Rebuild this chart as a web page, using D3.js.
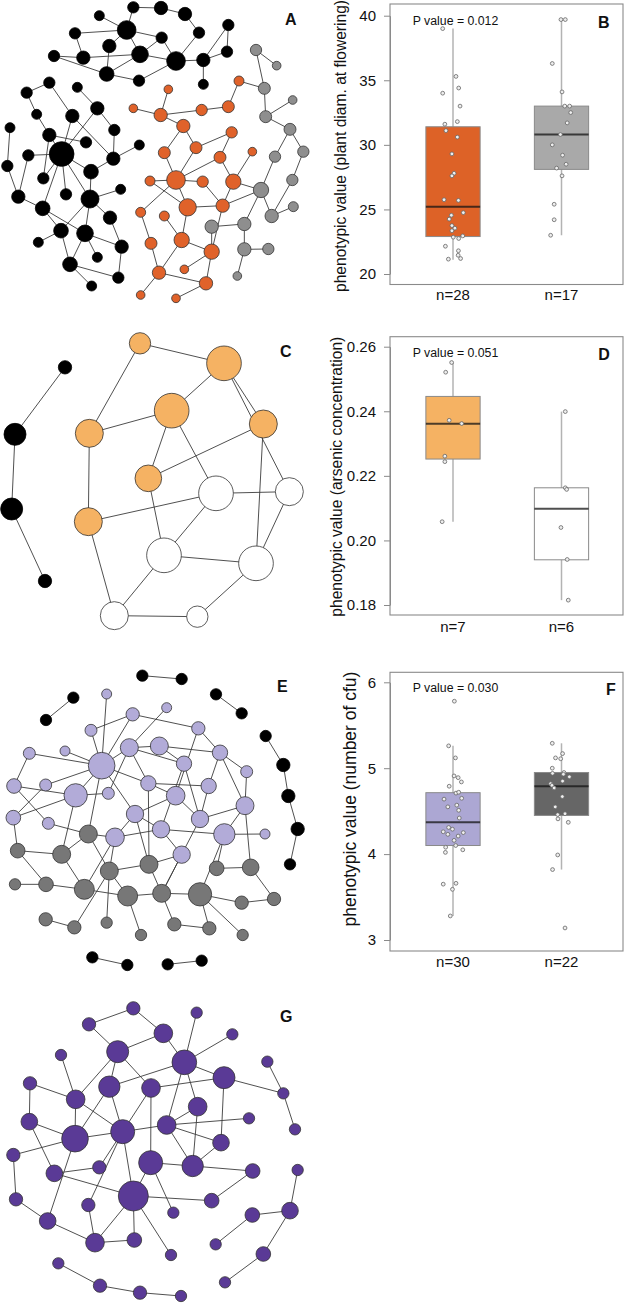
<!DOCTYPE html>
<html><head><meta charset="utf-8">
<script src="https://cdn.jsdelivr.net/npm/d3@7"></script>
<style>body{margin:0;background:#fff}svg{display:block;font-family:"Liberation Sans",Arial,sans-serif}</style>
</head><body>
<script>
// ---------------- Box plot data ----------------
const groupsB = ["n=28", "n=17"];
const statsB = [ // [whiskerLow, q1, median, q3, whiskerHigh]
  [21.1, 22.9, 25.2, 31.4, 39.0],
  [23.0, 28.1, 30.8, 33.0, 39.7]
];
const pointsB1 = [39.0,35.3,34.0,34.4,33.0,31.6,31.8,31.1,30.6,29.3,27.8,27.6,25.75,25.7,24.75,24.55,24.25,23.75,23.55,23.35,22.85,22.75,22.95,22.15,21.8,21.45,21.15,21.2];
const jitterB1 = [-0.38,0.11,-0.38,0.21,0.26,-0.30,0.16,-0.26,0.16,-0.04,0.04,-0.04,-0.33,0.20,0.38,-0.06,-0.14,-0.04,0.07,-0.04,0.01,0.21,0.36,-0.28,0.20,0.19,-0.17,0.28];
const pointsB2 = [39.7,39.7,36.3,34.1,33.0,33.0,32.5,31.7,30.8,30.0,29.2,28.5,28.2,27.6,25.4,24.2,23.0];
const jitterB2 = [-0.02,0.14,-0.34,0.02,0.12,0.30,0.34,0.21,-0.04,-0.34,0.04,0.17,-0.18,0.02,-0.27,-0.27,-0.40];
const ticksB = [20,25,30,35,40];

const groupsD = ["n=7", "n=6"];
const statsD = [
  [0.2058, 0.2252, 0.2361, 0.2446, 0.2551],
  [0.1815, 0.1940, 0.2098, 0.2163, 0.2399]
];
const pointsD1 = [0.2551,0.2521,0.2372,0.2362,0.2261,0.2244,0.2058];
const jitterD1 = [-0.05,-0.27,-0.14,0.32,-0.30,-0.30,-0.40];
const pointsD2 = [0.2399,0.2163,0.2158,0.2040,0.1941,0.1815];
const jitterD2 = [0.14,0.14,0.19,-0.02,0.21,0.25];
const ticksD = [0.18,0.20,0.22,0.24,0.26];

const groupsF = ["n=30", "n=22"];
const statsF = [
  [3.28, 4.10, 4.37, 4.715, 5.26],
  [3.82, 4.45, 4.79, 4.95, 5.29]
];
const pointsF1 = [5.78,5.26,5.12,4.91,4.89,4.84,4.79,4.71,4.72,4.64,4.65,4.55,4.57,4.51,4.42,4.31,4.29,4.26,4.25,4.23,4.21,4.16,4.10,4.08,4.05,4.02,3.65,3.66,3.59,3.28];
const jitterF1 = [0.05,-0.16,0.09,0.04,0.19,0.31,-0.14,0.11,0.21,-0.33,0.32,-0.19,0.14,0.21,0.23,-0.16,-0.02,-0.36,0.38,-0.19,0.19,0.04,0.10,-0.27,0.36,-0.28,-0.36,0.11,-0.02,-0.10];
const pointsF2 = [5.29,5.17,5.12,5.11,5.00,4.95,4.94,4.93,4.90,4.82,4.85,4.80,4.77,4.67,4.55,4.47,4.46,4.41,4.37,3.99,3.82,3.14];
const jitterF2 = [-0.34,0.04,-0.22,-0.03,-0.34,0.09,-0.33,0.07,0.29,-0.40,0.04,-0.35,-0.27,0.03,-0.23,0.13,-0.14,-0.13,0.25,-0.14,-0.33,0.13];
const ticksF = [3,4,5,6];

// ---------------- Network data (layout units) ----------------
// [x, y, size, group]
const nodesA = [
[400,22,17,"k"],[483,24,20,"k"],[555,42,20,"k"],[298,47,15,"k"],[380,90,28,"k"],[225,100,17,"k"],[597,98,17,"k"],[685,75,17,"k"],[485,113,17,"k"],[328,138,20,"k"],
[420,163,25,"k"],[528,183,28,"k"],[681,155,17,"k"],[162,168,17,"k"],[250,173,20,"k"],[610,180,20,"k"],[320,222,22,"k"],[417,242,17,"k"],[610,253,15,"k"],[148,248,17,"k"],
[232,262,15,"k"],[80,278,17,"k"],[292,325,20,"k"],[110,343,15,"k"],[217,348,20,"k"],[30,383,15,"k"],[343,390,17,"k"],[148,405,20,"k"],[258,427,17,"k"],[418,435,15,"k"],
[185,462,37,"k"],[85,466,17,"k"],[340,476,20,"k"],[22,498,17,"k"],[273,515,22,"k"],[130,535,17,"k"],[55,590,20,"k"],[198,583,17,"k"],[270,597,27,"k"],[362,568,15,"k"],
[128,625,22,"k"],[330,653,20,"k"],[183,692,22,"k"],[255,700,25,"k"],[115,727,15,"k"],[365,740,20,"k"],[292,772,15,"k"],[210,793,22,"k"],[355,833,17,"k"],[275,858,15,"k"],
[717,243,15,"o"],[505,268,13,"o"],[400,325,13,"o"],[482,345,20,"o"],[605,330,17,"o"],[685,320,18,"o"],[550,378,20,"o"],[695,397,17,"o"],[588,443,18,"o"],[493,458,18,"o"],
[660,472,18,"o"],[757,455,13,"o"],[528,540,28,"o"],[450,543,15,"o"],[608,545,17,"o"],[700,545,23,"o"],[563,622,26,"o"],[668,617,20,"o"],[422,637,15,"o"],[493,648,15,"o"],
[453,730,18,"o"],[545,720,23,"o"],[635,755,23,"o"],[553,808,13,"o"],[477,818,20,"o"],[618,850,20,"o"],[422,885,13,"o"],[528,895,13,"o"],
[768,150,17,"g"],[830,197,13,"g"],[793,265,18,"g"],[878,300,13,"g"],[797,350,18,"g"],[870,388,18,"g"],[910,455,17,"g"],[825,470,17,"g"],[877,540,17,"g"],[783,570,23,"g"],
[815,648,20,"g"],[880,620,15,"g"],[635,680,20,"g"],[733,672,20,"g"],[733,748,20,"g"],[805,747,17,"g"],[712,828,13,"g"]
];
const edgesA = [
[1,2],[2,3],[1,5],[4,5],[6,5],[5,10],[5,11],[5,9],[3,7],[7,12],[9,11],[9,12],[10,17],[6,15],[14,15],[15,11],[14,17],[17,11],[17,18],[11,12],[12,16],[16,8],[8,13],[13,16],[16,19],[18,12],
[20,22],[22,24],[20,25],[21,23],[24,28],[28,31],[25,31],[23,31],[23,27],[28,29],[26,34],[32,31],[32,37],[34,37],[37,41],[31,41],[31,35],[31,39],[31,38],[27,33],[25,33],[33,30],[39,40],[39,44],
[33,35],[35,39],[42,39],[42,46],[36,28],[31,36],[41,43],[41,44],[43,45],[43,48],[44,48],[44,46],[44,47],[46,49],[48,49],[48,50],[39,43],
[52,54],[53,54],[54,55],[55,56],[56,51],[54,57],[57,60],[57,59],[59,58],[59,63],[60,63],[58,61],[61,66],[62,66],[61,63],[63,64],[63,65],[63,67],[64,67],[65,68],[66,68],[67,68],
[63,69],[69,71],[70,72],[67,72],[72,75],[72,73],[71,75],[75,76],[73,76],[75,77],[76,78],[74,73],[68,73],[66,88],[51,81],
[79,80],[79,81],[81,83],[82,83],[83,84],[84,85],[84,86],[85,87],[86,88],[87,89],[88,89],[89,90],[88,92],[92,93],[93,94],[93,95],[91,92],[68,88],[91,73]
];

const nodesC = [
[195,142,20,"k"],[45,343,33,"k"],[35,567,33,"k"],[135,783,20,"k"],
[420,70,32,"o"],[672,130,52,"o"],[515,272,52,"o"],[268,340,42,"o"],[790,312,42,"o"],[445,475,40,"o"],[265,605,42,"o"],
[648,520,52,"w"],[868,515,42,"w"],[492,706,52,"w"],[768,730,52,"w"],[343,887,42,"w"],[592,890,32,"w"]
];
const edgesC = [
[1,2],[2,3],[3,4],[5,6],[5,8],[6,7],[6,9],[6,13],[8,7],[8,11],[7,10],[7,12],[9,10],[9,15],[10,14],[11,12],[12,13],[12,14],[13,15],[14,15],[11,16],[14,16],[16,17],[15,17]
];

const nodesEblack = [
["K1",427,77,17],["K2",545,87,17],["K3",220,143,17],["K4",138,210,17],["K5",648,133,17],["K6",725,190,17],["K7",797,258,17],["K8",850,345,20],
["K9",865,438,20],["K10",893,537,20],["K11",870,643,17],["K12",277,922,17],["K13",382,945,17],["K14",503,943,17],["K15",605,932,17]
];
const nodesElav = [
["L1",320,132,15],["L2",398,193,20],["L3",500,173,15],["L4",273,241,18],["L5",595,235,20],["L6",88,310,18],["L7",195,303,15],["L8",388,293,27],
["L9",478,288,27],["L10",305,347,40],["L11",660,308,23],["L12",552,341,23],["L13",740,365,18],["L14",42,408,22],["L15",137,405,18],["L16",227,436,35],
["L17",325,430,18],["L18",445,400,23],["L19",527,437,28],["L20",626,408,23],["L21",735,467,27],["L22",40,503,22],["L23",145,520,18],["L24",405,492,26],
["L25",600,507,26],["L26",345,562,28],["L27",483,538,26],["L28",673,553,32],["L29",795,552,15],["L30",545,614,26]
];
const nodesEgrey = [
["G1",265,552,27],["G2",53,602,22],["G3",185,613,27],["G4",447,643,27],["G5",328,663,27],["G6",650,655,22],["G7",752,652,25],["G8",45,703,17],
["G9",138,703,22],["G10",253,718,30],["G11",383,738,30],["G12",485,730,27],["G13",600,733,35],["G14",725,758,20],["G15",822,747,20],["G16",137,808,20],
["G17",223,832,20],["G18",320,818,17],["G19",423,855,17],["G20",523,823,20],["G21",628,835,20],["G22",728,855,17]
];
const edgesE = [
["K1","K2"],["K3","K4"],["K5","K6"],["K7","K8"],["K8","K9"],["K9","K10"],["K10","K11"],["K12","K13"],["K14","K15"],
["L1","L10"],["L2","L4"],["L2","L5"],["L2","L10"],["L3","L8"],["L4","L10"],["L6","L10"],["L7","L10"],["L6","L14"],["L14","L16"],["L14","L23"],
["L15","L10"],["L15","L22"],["L16","L22"],["L22","G2"],["L23","G1"],["L10","L8"],["L8","L9"],["L8","L12"],["L9","L12"],["L9","L11"],["L8","L18"],
["L10","L18"],["L10","L16"],["L17","L8"],["L10","G1"],["L16","G3"],["L10","L24"],["L5","L11"],["L5","L19"],["L11","L13"],["L11","L21"],["L11","L20"],
["L12","L27"],["L12","L25"],["L18","L20"],["L18","L19"],["L19","L25"],["L19","L24"],["L20","L25"],["L21","L25"],["L21","L28"],["L21","G7"],["L13","L21"],
["L28","L29"],["L24","L27"],["L24","L26"],["L26","L27"],["L27","L30"],["L27","L28"],["L26","G1"],["L26","G5"],["L30","G12"],["L28","G13"],["L28","G6"],
["L30","G4"],["L24","G4"],["G1","G3"],["G1","G5"],["G2","G3"],["G2","G9"],["G3","G10"],["G8","G9"],["G9","G10"],["G10","G11"],["G16","G17"],["G17","G5"],
["G5","G4"],["G5","G11"],["G4","G12"],["G11","G12"],["G11","G19"],["G12","G13"],["G12","G20"],["G20","G21"],["G13","G21"],["G13","G22"],["G13","G14"],
["G14","G15"],["G15","G7"],["G6","G7"],["G18","G5"],["G10","L26"],["G12","L25"],["G4","L18"],["L16","L17"]
];

const nodesG = [
["P1",400,115,20],["P2",590,128,17],["P3",267,163,20],["P4",490,190,28],["P5",697,193,17],["P6",353,245,33],["P7",553,277,37],["P8",183,255,17],
["P9",802,275,17],["P10",672,323,33],["P11",90,340,20],["P12",328,350,32],["P13",453,354,28],["P14",850,370,17],["P15",227,388,28],["P16",593,410,28],
["P17",747,445,17],["P18",88,455,25],["P19",500,465,28],["P20",885,478,17],["P21",225,506,40],["P22",368,485,36],["P23",663,518,25],["P24",40,555,20],
["P25",452,578,36],["P26",578,588,32],["P27",298,592,20],["P28",163,610,25],["P29",758,603,22],["P30",893,600,17],["P31",48,688,20],["P32",400,678,45],
["P33",635,692,22],["P34",265,705,20],["P35",520,728,17],["P36",757,735,22],["P37",870,722,25],["P38",143,753,25],["P39",285,818,28],["P40",403,810,22],
["P41",647,823,17],["P42",790,852,22],["P43",513,855,17],["P44",175,880,17],["P45",675,937,17],["P46",300,947,20],["P47",420,968,20],["P48",543,978,17]
];
const edgesG = [
["P1","P3"],["P1","P4"],["P3","P6"],["P4","P6"],["P4","P7"],["P2","P7"],["P5","P7"],["P7","P10"],["P7","P12"],["P7","P19"],["P7","P16"],["P6","P12"],
["P6","P13"],["P6","P15"],["P8","P15"],["P11","P15"],["P11","P18"],["P10","P13"],["P10","P23"],["P10","P14"],["P9","P14"],["P14","P20"],["P12","P21"],
["P12","P22"],["P13","P22"],["P13","P25"],["P15","P21"],["P15","P22"],["P18","P21"],["P18","P28"],["P21","P24"],["P21","P22"],["P21","P38"],["P22","P19"],
["P22","P27"],["P22","P32"],["P22","P34"],["P19","P17"],["P19","P16"],["P16","P26"],["P19","P26"],["P23","P26"],["P25","P26"],["P25","P32"],["P25","P35"],
["P26","P29"],["P28","P27"],["P28","P32"],["P24","P31"],["P31","P38"],["P38","P39"],["P34","P39"],["P32","P39"],["P32","P40"],["P32","P33"],["P32","P43"],
["P33","P29"],["P39","P40"],["P41","P36"],["P36","P37"],["P37","P30"],["P37","P42"],["P42","P45"],["P44","P46"],["P46","P47"],["P47","P48"],["P19","P23"]
];

// ---------------- Drawing ----------------
const W = 625, H = 1304;
const svg = d3.select("body").append("svg").attr("width", W).attr("height", H);
const FONT = "'Liberation Sans', Arial, sans-serif";

function drawNet(nodes, edges, colors, x0, y0, letter, lx, ly) {
  const g = svg.append("g");
  const x = d3.scaleLinear().domain([0, 990]).range([x0, x0 + 330]);
  const y = d3.scaleLinear().domain([0, 960]).range([y0, y0 + 320]);
  const r = d3.scaleLinear().domain([0, 3]).range([0, 1]);
  const byId = new Map(nodes.map(n => [n.id, n]));
  g.selectAll("line").data(edges).join("line")
    .attr("x1", e => x(byId.get(e[0]).x)).attr("y1", e => y(byId.get(e[0]).y))
    .attr("x2", e => x(byId.get(e[1]).x)).attr("y2", e => y(byId.get(e[1]).y))
    .attr("stroke", "#3c3c3c").attr("stroke-width", 0.9);
  g.selectAll("circle").data(nodes).join("circle")
    .attr("cx", n => x(n.x)).attr("cy", n => y(n.y)).attr("r", n => r(n.s))
    .attr("fill", n => colors[n.g])
    .attr("stroke", n => n.g === "k" ? "#000" : "#333").attr("stroke-width", 0.8);
  svg.append("text").attr("x", lx).attr("y", ly).text(letter)
    .attr("font-size", 16).attr("font-weight", "bold").attr("fill", "#111");
}

const toNodes = (arr) => arr.map((d, i) => ({id: i + 1, x: d[0], y: d[1], s: d[2], g: d[3]}));
const toNodesId = (arr, grp) => arr.map(d => ({id: d[0], x: d[1], y: d[2], s: d[3], g: grp}));

drawNet(toNodes(nodesA), edgesA, {k: "#000", o: "#E0622A", g: "#8E8E8E"}, 0, 0, "A", 285, 25);
drawNet(toNodes(nodesC), edgesC, {k: "#000", o: "#F5B263", w: "#fff"}, 0, 320, "C", 280, 356.5);
drawNet([...toNodesId(nodesEblack, "k"), ...toNodesId(nodesElav, "l"), ...toNodesId(nodesEgrey, "g")], edgesE,
  {k: "#000", l: "#B2ABD8", g: "#777777"}, 0, 650, "E", 277, 691.5);
drawNet(toNodesId(nodesG, "p"), edgesG, {p: "#5A3A96"}, 0, 970, "G", 280, 1022);

function drawBox(cfg) {
  const g = svg.append("g");
  const x = d3.scaleLinear().domain([0.5, 2.5]).range([398.75, 615.75]);
  const y = d3.scaleLinear().domain(cfg.domain).range(cfg.range);
  const bw = x(1.25) - x(1);
  // frame
  g.append("rect").attr("x", 390).attr("y", cfg.top).attr("width", 233).attr("height", cfg.bottom - cfg.top)
    .attr("fill", "none").attr("stroke", "#8a8a8a").attr("stroke-width", 1.1);
  // axis
  const ax = g.append("g").attr("transform", "translate(390,0)")
    .call(d3.axisLeft(y).tickValues(cfg.ticks).tickSize(6).tickSizeOuter(0).tickPadding(8).tickFormat(cfg.fmt));
  ax.select(".domain").attr("stroke", "#8a8a8a");
  ax.selectAll(".tick line").attr("stroke", "#8a8a8a");
  ax.selectAll(".tick text").attr("font-size", 15).attr("font-family", FONT).attr("fill", "#111");
  cfg.stats.forEach((s, i) => {
    const cx = x(i + 1);
    g.append("line").attr("x1", cx).attr("x2", cx).attr("y1", y(s[0])).attr("y2", y(s[4]))
      .attr("stroke", "#b3b3b3").attr("stroke-width", 1.5);
    g.append("rect").attr("x", cx - bw).attr("width", 2 * bw).attr("y", y(s[3])).attr("height", y(s[1]) - y(s[3]))
      .attr("fill", cfg.fills[i]).attr("stroke", "#8a8a8a").attr("stroke-width", 1);
    g.append("line").attr("x1", cx - bw).attr("x2", cx + bw).attr("y1", y(s[2])).attr("y2", y(s[2]))
      .attr("stroke", "rgba(20,20,20,0.75)").attr("stroke-width", 2);
    g.selectAll(null).data(cfg.points[i].map((v, k) => [v, cfg.jitter[i][k]])).join("circle")
      .attr("cx", d => cx + d[1] * 2 * bw * 0.5 * 1.0 + 0).attr("cy", d => y(d[0])).attr("r", 1.9)
      .attr("fill", "#eeeeee").attr("stroke", "#666").attr("stroke-width", 0.8);
    g.append("text").attr("x", cx).attr("y", cfg.nY).attr("text-anchor", "middle")
      .attr("font-size", 15).attr("fill", "#111").text(cfg.groups[i]);
  });
  g.append("text").attr("x", 412.7).attr("y", cfg.pY).attr("font-size", 12.3).attr("fill", "#111").text(cfg.pText);
  g.append("text").attr("x", cfg.lx).attr("y", cfg.ly).attr("font-size", 16).attr("font-weight", "bold").attr("fill", "#111").text(cfg.letter);
  g.append("text").attr("transform", `translate(${cfg.ylx},${cfg.yly}) rotate(-90)`).attr("text-anchor", "middle")
    .attr("font-size", cfg.ylSize).attr("fill", "#111").text(cfg.ylabel);
}

drawBox({domain: [20, 40], range: [274, 15.7], top: 4, bottom: 284.5, ticks: ticksB, fmt: d3.format("d"),
  stats: statsB, points: [pointsB1, pointsB2], jitter: [jitterB1, jitterB2], fills: ["#DD6227", "#A9A9A9"],
  groups: groupsB, nY: 300, pY: 25, pText: "P value = 0.012", letter: "B", lx: 598, ly: 28.3,
  ylabel: "phenotypic value (plant diam. at flowering)", ylx: 346, yly: 146, ylSize: 15.6});
drawBox({domain: [0.18, 0.26], range: [605, 346.7], top: 336.7, bottom: 615, ticks: ticksD, fmt: d3.format(".2f"),
  stats: statsD, points: [pointsD1, pointsD2], jitter: [jitterD1, jitterD2], fills: ["#F5B263", "#FFFFFF"],
  groups: groupsD, nY: 631.5, pY: 356.7, pText: "P value = 0.051", letter: "D", lx: 598.3, ly: 360,
  ylabel: "phenotypic value (arsenic concentration)", ylx: 341.7, yly: 476.7, ylSize: 15.6});
drawBox({domain: [3, 6], range: [940, 682.3], top: 672.3, bottom: 951, ticks: ticksF, fmt: d3.format("d"),
  stats: statsF, points: [pointsF1, pointsF2], jitter: [jitterF1, jitterF2], fills: ["#ACA7D3", "#666666"],
  groups: groupsF, nY: 967, pY: 691.7, pText: "P value = 0.030", letter: "F", lx: 606, ly: 695,
  ylabel: "phenotypic value (number of cfu)", ylx: 355.7, yly: 799, ylSize: 17.5});
</script>
</body></html>
